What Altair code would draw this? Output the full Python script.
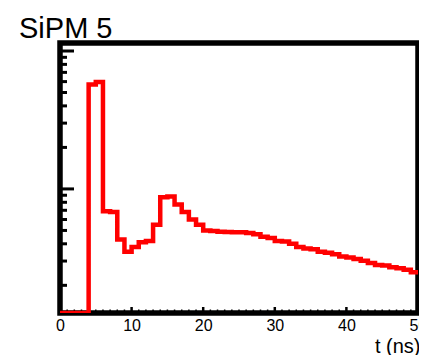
import altair as alt
import pandas as pd

# Histogram: 1 ns bins from 0 to 50 ns (log-scale counts, 0 = empty bin)
bin_edges = list(range(0, 50))
counts = [0, 0, 0, 0, 572, 596, 69, 68, 43, 35,
          38, 41, 42, 55, 87, 88, 77, 68, 60, 55,
          50, 49.6, 49, 48.8, 48.6, 48.5, 48, 47, 45, 44,
          42, 41.5, 40, 38, 37, 36.6, 35, 34.4, 33.6, 32.3,
          31.8, 31.1, 30.1, 29, 28.1, 27.8, 27.1, 26.6, 25.9, 24.9]
x_max = 50
y_min, y_max = 12.6, 1143

x_labels = [0, 10, 20, 30, 40, 50]
x_minor = [v for v in range(1, 50) if v % 10 != 0]
x_major_inner = [10, 20, 30, 40]
y_major = [100, 1000]
y_minor = [20, 30, 40, 50, 60, 70, 80, 90, 200, 300, 400, 500, 600, 700, 800, 900]

title_text = "SiPM 5"
x_title = "t (ns)"

W, H = 358, 270
FONT = "Liberation Sans"

xs = bin_edges + [x_max]
ys = [max(c, y_min) for c in counts] + [max(counts[-1], y_min)]
hist = pd.DataFrame({"t": xs, "n": ys})

xscale = alt.Scale(domain=[0, x_max], nice=False, zero=False)
yscale = alt.Scale(type="log", domain=[y_min, y_max], nice=False)
xaxis = alt.Axis(values=x_labels, ticks=False, domain=False, grid=False,
                 labelFont=FONT, labelFontSize=16, labelColor="black",
                 labelPadding=4, labelFlush=False, labelOverlap=False,
                 title=x_title, titleFont=FONT, titleFontSize=20,
                 titleFontWeight="normal", titleColor="black",
                 titleAlign="right", titleBaseline="alphabetic",
                 titleX=W + 2, titleY=39, titleAnchor="end")

line = alt.Chart(hist).mark_line(
    interpolate="step-after", color="#ff0000", strokeWidth=4.5, clip=True,
    strokeJoin="miter", strokeCap="butt"
).encode(
    x=alt.X("t:Q", scale=xscale, axis=xaxis),
    y=alt.Y("n:Q", scale=yscale, axis=None),
)

ymaj = alt.Chart(pd.DataFrame({"v": y_major})).mark_rule(
    color="black", strokeWidth=3
).encode(y=alt.Y("v:Q", scale=yscale, axis=None), x=alt.value(0), x2=alt.value(14))

ymin_ = alt.Chart(pd.DataFrame({"v": y_minor})).mark_rule(
    color="black", strokeWidth=3
).encode(y=alt.Y("v:Q", scale=yscale, axis=None), x=alt.value(0), x2=alt.value(7))

xmaj = alt.Chart(pd.DataFrame({"v": x_major_inner})).mark_rule(
    color="black", strokeWidth=2.5
).encode(x=alt.X("v:Q", scale=xscale, axis=xaxis), y=alt.value(H), y2=alt.value(H - 6))

xmin_ = alt.Chart(pd.DataFrame({"v": x_minor})).mark_rule(
    color="black", strokeWidth=1.5
).encode(x=alt.X("v:Q", scale=xscale, axis=xaxis), y=alt.value(H), y2=alt.value(H - 3.5))

title = alt.Chart(pd.DataFrame({"s": [title_text]})).mark_text(
    font=FONT, fontSize=29, color="black", align="left", baseline="alphabetic"
).encode(text="s:N", x=alt.value(-41), y=alt.value(-5))

chart = alt.layer(ymaj, ymin_, xmaj, xmin_, line, title).properties(
    width=W, height=H,
    autosize=alt.AutoSizeParams(type="none"),
    padding={"left": 52, "top": 35, "right": 1, "bottom": 42},
).configure_view(stroke="black", strokeWidth=5.5, fill="white")

chart.save("out.html", embed_options={"renderer": "svg", "actions": False})
